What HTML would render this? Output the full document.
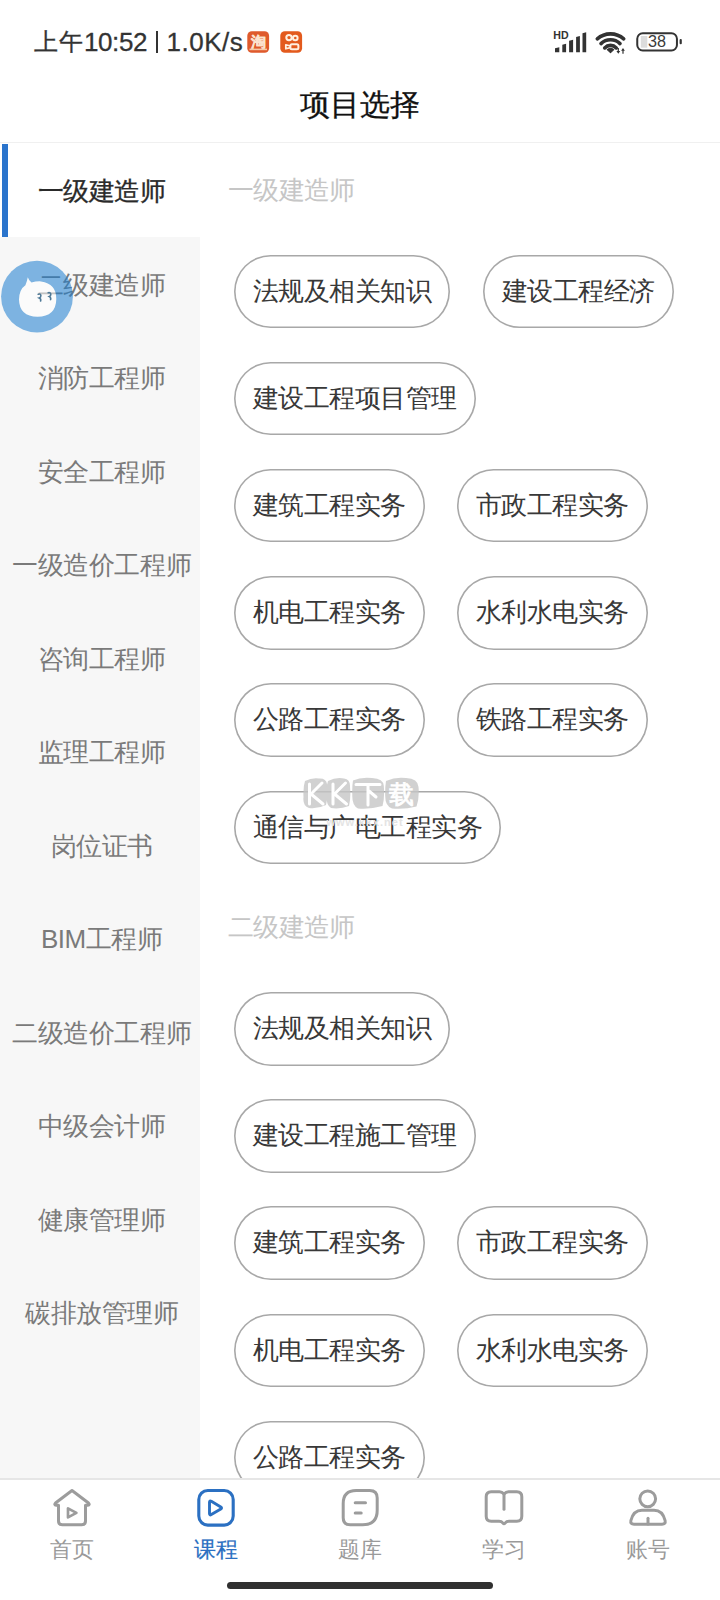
<!DOCTYPE html>
<html><head><meta charset="utf-8">
<style>
*{margin:0;padding:0;box-sizing:border-box}
html,body{width:720px;height:1600px;overflow:hidden;background:#fff;font-family:"Liberation Sans",sans-serif;position:relative}
.st{position:absolute;top:24px;font-size:25px;color:#333;white-space:nowrap;line-height:36px;-webkit-text-stroke:0.3px #333}
.title{position:absolute;left:0;width:720px;top:84px;text-align:center;font-size:30px;color:#111;line-height:42px;-webkit-text-stroke:0.3px #111}
.topline{position:absolute;left:0;top:142px;width:720px;height:1px;background:#f0f0f0}
.sidebar{position:absolute;left:0;top:237px;width:200px;height:1241px;background:#f7f7f7}
.si{position:absolute;left:0;width:200px;height:93.5px;line-height:97px;text-align:center;font-size:26px;color:#7a7a7a;white-space:nowrap;letter-spacing:-0.45px;text-indent:0.45px;padding-left:3px}
.si.sel{background:#fff;color:#2a2a2a;-webkit-text-stroke:0.3px #2a2a2a}
.si.sel::before{content:"";position:absolute;left:2px;top:1px;width:5.5px;height:93px;background:#2a74cc}
.hdr{position:absolute;left:228px;font-size:26px;color:#c6c6c6;line-height:40px;white-space:nowrap;letter-spacing:-0.7px}
.chip{position:absolute;height:73.5px;border:0;box-shadow:inset 0 0 0 1.6px #a8a8a8;border-radius:37px;font-size:26px;color:#383838;line-height:73.5px;padding:0 19px;white-space:nowrap;letter-spacing:-0.55px;background:transparent}
.nav{position:absolute;left:0;top:1478px;width:720px;height:122px;background:#fff;border-top:2px solid #e6e6e6}
.nl{position:absolute;top:1533px;font-size:22px;color:#9a9a9a;text-align:center;width:144px;line-height:34px}
.bar{position:absolute;left:227px;top:1582px;width:266px;height:7px;border-radius:3.5px;background:#303030}
</style></head><body>
<div class="st" style="left:34px;font-size:24px;letter-spacing:0.6px">上午</div>
<div class="st" style="left:84px;font-size:26px;letter-spacing:-0.4px">10:52</div>
<div style="position:absolute;left:155.6px;top:31px;width:2.8px;height:21.5px;background:#333"></div>
<div class="st" style="left:166.5px;font-size:26px;letter-spacing:0.5px">1.0K/s</div>
<svg style="position:absolute;left:0;top:0" width="720" height="70" viewBox="0 0 720 70">
 <rect x="247.3" y="31.3" width="21.8" height="21.4" rx="4.5" fill="#df5a2c"/>
 <text x="258.2" y="47" font-size="15" fill="#fbe3cf" stroke="#fbe3cf" stroke-width="0.25" text-anchor="middle" font-family="Liberation Sans" font-weight="bold">淘</text>
 <rect x="249.5" y="48.6" width="17.5" height="1.6" fill="#f6c9a8"/>
 <rect x="280.3" y="31.3" width="21.8" height="21.4" rx="4.5" fill="#e35a1d"/>
 <circle cx="289" cy="37.6" r="2.7" fill="none" stroke="#fff0e0" stroke-width="2"/>
 <circle cx="295.3" cy="38" r="2.3" fill="none" stroke="#fff0e0" stroke-width="2"/>
 <rect x="290.4" y="44.2" width="8" height="5" rx="1.5" fill="none" stroke="#fff0e0" stroke-width="2"/>
 <path d="M290.4,46 L285.8,44.8 L285.8,48.8 L290.4,47.6" fill="none" stroke="#fff0e0" stroke-width="1.7" stroke-linejoin="round"/>
 <text x="561" y="38.9" font-size="10.6" font-weight="bold" fill="#333" text-anchor="middle" font-family="Liberation Sans">HD</text>
 <g fill="#333">
  <path d="M555,48.3 L559.3,47.2 L559.3,52.3 L555,52.3 Z"/>
  <path d="M562.3,44.8 L566.1,43.8 L566.1,52.3 L562.3,52.3 Z"/>
  <path d="M569.1,40.8 L573.1,39.8 L573.1,52.3 L569.1,52.3 Z"/>
  <path d="M576.1,36.9 L579.9,35.9 L579.9,52.3 L576.1,52.3 Z"/>
  <path d="M582.5,33.2 L586.2,32.2 L586.2,52.3 L582.5,52.3 Z"/>
 </g>
 <g fill="none" stroke="#333" stroke-width="3.6" stroke-linecap="round">
  <path d="M597.3,38.9 A19.8,19.8 0 0 1 623.7,38.9"/>
  <path d="M601,43.6 A13.8,13.8 0 0 1 620,43.6"/>
  <path d="M604.7,47.9 A8,8 0 0 1 616.3,47.9"/>
 </g>
 <path d="M610.5,52.6 L607.3,49.6 A4.5,4.5 0 0 1 613.7,49.6 Z" fill="#333" stroke="#333" stroke-width="1.2" stroke-linejoin="round"/>
 <g fill="#333">
  <path d="M617.7,48 L618.9,48 L618.9,51 L620.2,51 L618.3,53.8 L616.4,51 L617.7,51 Z"/>
  <path d="M622.4,53.8 L623.6,53.8 L623.6,50.8 L624.9,50.8 L623,48 L621.1,50.8 L622.4,50.8 Z"/>
 </g>
 <rect x="637.25" y="33.25" width="39.7" height="17.2" rx="5.5" fill="none" stroke="#333" stroke-width="2"/>
 <rect x="640.8" y="36" width="6.5" height="11.7" fill="#dcdcdc"/>
 <text x="657" y="47.4" font-size="16.2" fill="#3a3a3a" text-anchor="middle" font-family="Liberation Sans">38</text>
 <rect x="679.6" y="38.9" width="2.2" height="5.4" rx="1" fill="#333"/>
</svg>
<div class="title">项目选择</div>
<div class="topline"></div>
<div class="sidebar"></div>
<div class="si sel" style="top:143.0px">一级建造师</div>
<div class="si" style="top:236.5px">二级建造师</div>
<div class="si" style="top:330.0px">消防工程师</div>
<div class="si" style="top:423.5px">安全工程师</div>
<div class="si" style="top:517.0px">一级造价工程师</div>
<div class="si" style="top:610.5px">咨询工程师</div>
<div class="si" style="top:704.0px">监理工程师</div>
<div class="si" style="top:797.5px">岗位证书</div>
<div class="si" style="top:891.0px">BIM工程师</div>
<div class="si" style="top:984.5px">二级造价工程师</div>
<div class="si" style="top:1078.0px">中级会计师</div>
<div class="si" style="top:1171.5px">健康管理师</div>
<div class="si" style="top:1265.0px">碳排放管理师</div>
<div class="hdr" style="top:170px">一级建造师</div>
<div class="chip" style="left:234px;top:254.5px">法规及相关知识</div>
<div class="chip" style="left:483px;top:254.5px">建设工程经济</div>
<div class="chip" style="left:234px;top:361.7px">建设工程项目管理</div>
<div class="chip" style="left:234px;top:468.9px">建筑工程实务</div>
<div class="chip" style="left:457px;top:468.9px">市政工程实务</div>
<div class="chip" style="left:234px;top:576.1px">机电工程实务</div>
<div class="chip" style="left:457px;top:576.1px">水利水电实务</div>
<div class="chip" style="left:234px;top:683.3px">公路工程实务</div>
<div class="chip" style="left:457px;top:683.3px">铁路工程实务</div>
<div class="chip" style="left:234px;top:790.5px">通信与广电工程实务</div>
<svg style="position:absolute;left:296px;top:770px" width="130" height="60" viewBox="296 770 130 60">
 <g fill="#c6c6c6" opacity="0.8">
  <path d="M305,781 Q312,777.5 319,778.5 Q326,778 327,784 Q328.5,795 326,805 Q318,809 309,808 Q302.5,806 303.5,797 Q303,787 305,781 Z"/>
  <path d="M328,781 Q336,777 344,778.5 Q350.5,779.5 350,787 Q351,798 349,806 Q340,809.5 331,808 Q326,805 326.5,795 Q326,786 328,781 Z"/>
  <path d="M353,780.5 Q361,776.8 372,778 Q383.5,778.6 383.8,786 Q384.8,798 382.5,806 Q370,809.5 358,808.5 Q352,805.5 352.3,795 Q352,786 353,780.5 Z"/>
  <path d="M386,781 Q396,776.5 406,778 Q418,778.5 418.5,787 Q419.5,798 416.5,806.5 Q404,809.8 392,808.5 Q385.2,806 385.2,796 Q385,787 386,781 Z"/>
 </g>
 <g fill="none" stroke="#fff" stroke-width="3" stroke-linecap="round" stroke-linejoin="round">
  <path d="M309.5,784 L309.5,804 M322,783 L311,794 L323,804"/>
  <path d="M333,784 L333,804 M345.5,783 L334.5,794 L346.5,804"/>
  <path d="M356,784.5 L380,784.5 M368,784.5 L368,805 M369,791 L376,797"/>
 </g>
 <text x="401.5" y="803" font-size="25" fill="#fff" stroke="#fff" stroke-width="0.8" text-anchor="middle" font-family="Liberation Sans">载</text>
 <text x="365" y="826" font-size="11" fill="#e4e4e4" text-anchor="middle" font-family="Liberation Sans" font-weight="bold" letter-spacing="1">www.kkx.net</text>
</svg>
<div class="hdr" style="top:907px">二级建造师</div>
<div class="chip" style="left:234px;top:992px">法规及相关知识</div>
<div class="chip" style="left:234px;top:1099.2px">建设工程施工管理</div>
<div class="chip" style="left:234px;top:1206.4px">建筑工程实务</div>
<div class="chip" style="left:457px;top:1206.4px">市政工程实务</div>
<div class="chip" style="left:234px;top:1313.6px">机电工程实务</div>
<div class="chip" style="left:457px;top:1313.6px">水利水电实务</div>
<div class="chip" style="left:234px;top:1420.8px">公路工程实务</div>
<svg style="position:absolute;left:0;top:258px;opacity:0.55" width="76" height="78" viewBox="0 258 76 78">
 <circle cx="37" cy="296.6" r="35.9" fill="#1a7dd0"/>
 <path d="M27.8,277.3 Q29,281 31.5,282.6 Q36,281.2 41,281.4 Q56.5,283.5 56.3,299 Q56,316.6 37.5,316.7 Q19.3,316.5 19,299.5 Q19.2,289.5 25.4,285.3 Q27,281.5 27.8,277.3 Z" fill="#fff"/>
</svg>
<svg style="position:absolute;left:0;top:258px" width="76" height="78" viewBox="0 258 76 78">
 <path d="M38.2,294.2 Q40.6,293.4 40.9,295.6 Q41,297.3 39.2,297.9 Q41.3,298.8 40.6,301 M48.2,292.8 Q50.6,292.2 50.8,294.3 Q50.9,296 49.3,296.6 Q51.2,297.5 50.6,299.6" fill="none" stroke="#4d7896" stroke-width="1.6" stroke-linecap="round"/>
</svg>
<div class="nav"></div>
<svg style="position:absolute;left:0;top:1470px" width="720" height="80" viewBox="0 0 720 80" fill="none" stroke-linecap="round" stroke-linejoin="round">
 <g stroke="#9c9c9c" stroke-width="3">
  <path d="M72,20.5 L55.5,33 Q53.8,34.8 56.3,35.3 L58.5,35.3 L58.5,51 Q58.5,54.8 62.3,54.8 L81.7,54.8 Q85.5,54.8 85.5,51 L85.5,35.3 L87.7,35.3 Q90.2,34.8 88.5,33 Z"/>
  <path d="M68,38.4 L68,47.4 L76.4,42.9 Z" stroke-width="2.7"/>
 </g>
 <g stroke="#2b70c2" stroke-width="3.1">
  <rect x="198.8" y="20.5" width="34.4" height="34.6" rx="9"/>
  <path d="M209.5,32.2 L209.5,43.6 Q209.5,45.6 211.3,44.6 L220.8,39 Q222.3,38 220.8,37 L211.3,31.3 Q209.5,30.3 209.5,32.2 Z" stroke-width="2.9"/>
 </g>
 <g stroke="#9c9c9c" stroke-width="3">
  <path d="M356.2,20.5 L369.7,20.5 Q377.2,20.5 377.2,28 L377.2,40.3 Q377.2,54.8 362.7,54.8 L350.2,54.8 Q343.2,54.8 343.2,47.8 L343.2,33.5 Q343.2,20.5 356.2,20.5 Z"/>
  <path d="M355.2,32.7 L365.5,32.7 M355.2,43 L361.2,43"/>
  <path d="M504,24 Q502,21.8 499.5,21.8 L491.2,21.8 Q486.2,21.8 486.2,26.8 L486.2,46.3 Q486.2,51.3 491.2,51.3 L499,51.3 Q501.5,51.3 503,53.1 Q504,54.1 505,53.1 Q506.5,51.3 509,51.3 L516.8,51.3 Q521.8,51.3 521.8,46.3 L521.8,26.8 Q521.8,21.8 516.8,21.8 L508.5,21.8 Q506,21.8 504,24 Z"/>
  <path d="M504,24 L504,39.2"/>
  <circle cx="647.7" cy="28.8" r="7.9"/>
  <path d="M634,54.2 L662,54.2 Q665.9,54.2 665.1,50.5 C663.6,44.2 660.2,40.2 654,40.2 L642,40.2 C635.8,40.2 632.4,44.2 630.9,50.5 Q630.1,54.2 634,54.2 Z"/>
  <path d="M648,48.3 L648,54"/>
 </g>
</svg>
<div class="nl" style="left:0">首页</div>
<div class="nl" style="left:144px;color:#2b70c2;-webkit-text-stroke:0.2px #2b70c2">课程</div>
<div class="nl" style="left:288px">题库</div>
<div class="nl" style="left:432px">学习</div>
<div class="nl" style="left:576px">账号</div>
<div class="bar"></div>
</body></html>
